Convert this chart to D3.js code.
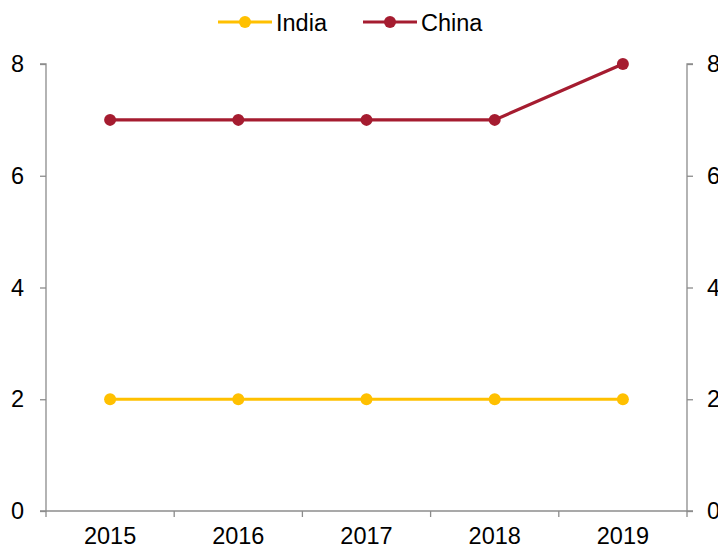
<!DOCTYPE html>
<html><head><meta charset="utf-8">
<script src="https://cdn.jsdelivr.net/npm/d3@7"></script>
<style>body{margin:0;background:#fff}svg{display:block}text{font-family:"Liberation Sans",Arial,sans-serif}</style>
</head><body><svg id="c" width="718" height="552"></svg>
<script>
const categories = ["2015","2016","2017","2018","2019"];
const india = [2,2,2,2,2];
const china = [7,7,7,7,8];
const yTicks = [0,2,4,6,8];
const seriesNames = ["India","China"];
const seriesColors = ["#FFC000","#A51C30"];

const svg = d3.select("#c");
const L = 46, R = 687, T = 64, B = 511;
const FS = 23.5;
const x = d3.scaleBand().domain(categories).range([L, R]);
const y = d3.scaleLinear().domain([0, 8]).range([B, T]);
const axisColor = "#8c8c8c";

const ly = svg.append("g").attr("transform", `translate(${L},0)`)
  .call(d3.axisLeft(y).tickValues(yTicks).tickSize(6).tickPadding(16));
const ry = svg.append("g").attr("transform", `translate(${R},0)`)
  .call(d3.axisRight(y).tickValues(yTicks).tickSize(6).tickPadding(14));
const bx = svg.append("g").attr("transform", `translate(0,${B})`)
  .call(d3.axisBottom(x).tickSize(0).tickPadding(16));
bx.selectAll(".tick line").remove();
const bounds = categories.map(c => x(c)).concat([R]);
bx.selectAll(".bt").data(bounds).enter().append("line")
  .attr("x1", d => d).attr("x2", d => d).attr("y1", 0).attr("y2", 6)
  .attr("stroke", axisColor).attr("stroke-width", 1.3);

[ly, ry, bx].forEach(g => {
  g.selectAll(".domain").attr("stroke", axisColor).attr("stroke-width", 1.3);
  g.selectAll(".tick line").attr("stroke", axisColor).attr("stroke-width", 1.3);
  g.selectAll("text").attr("font-size", FS).attr("fill", "#000")
    .attr("font-family", "'Liberation Sans', Arial, sans-serif");
});
ly.select(".domain").attr("d", `M-6,${T}H0V${B}H-6`);
ry.select(".domain").attr("d", `M6,${T}H0V${B}H6`);
bx.select(".domain").attr("d", `M${L},0H${R}`);

const cx = c => x(c) + x.bandwidth() / 2;
const data = [india, china];
data.forEach((vals, i) => {
  const pts = categories.map((c, j) => [cx(c), y(vals[j])]);
  svg.append("path").attr("d", d3.line()(pts)).attr("fill", "none")
    .attr("stroke", seriesColors[i]).attr("stroke-width", 3.2);
  svg.selectAll(null).data(pts).enter().append("circle")
    .attr("cx", d => d[0]).attr("cy", d => d[1]).attr("r", 6)
    .attr("fill", seriesColors[i]);
});

const legX = [218, 363];
seriesNames.forEach((n, i) => {
  const g = svg.append("g").attr("transform", `translate(${legX[i]},22)`);
  g.append("line").attr("x1", 0).attr("x2", 54).attr("y1", 0).attr("y2", 0)
    .attr("stroke", seriesColors[i]).attr("stroke-width", 3.2);
  g.append("circle").attr("cx", 27).attr("cy", 0).attr("r", 6).attr("fill", seriesColors[i]);
  g.append("text").attr("x", 58).attr("y", 8.5).attr("font-size", FS).text(n);
});
</script></body></html>
